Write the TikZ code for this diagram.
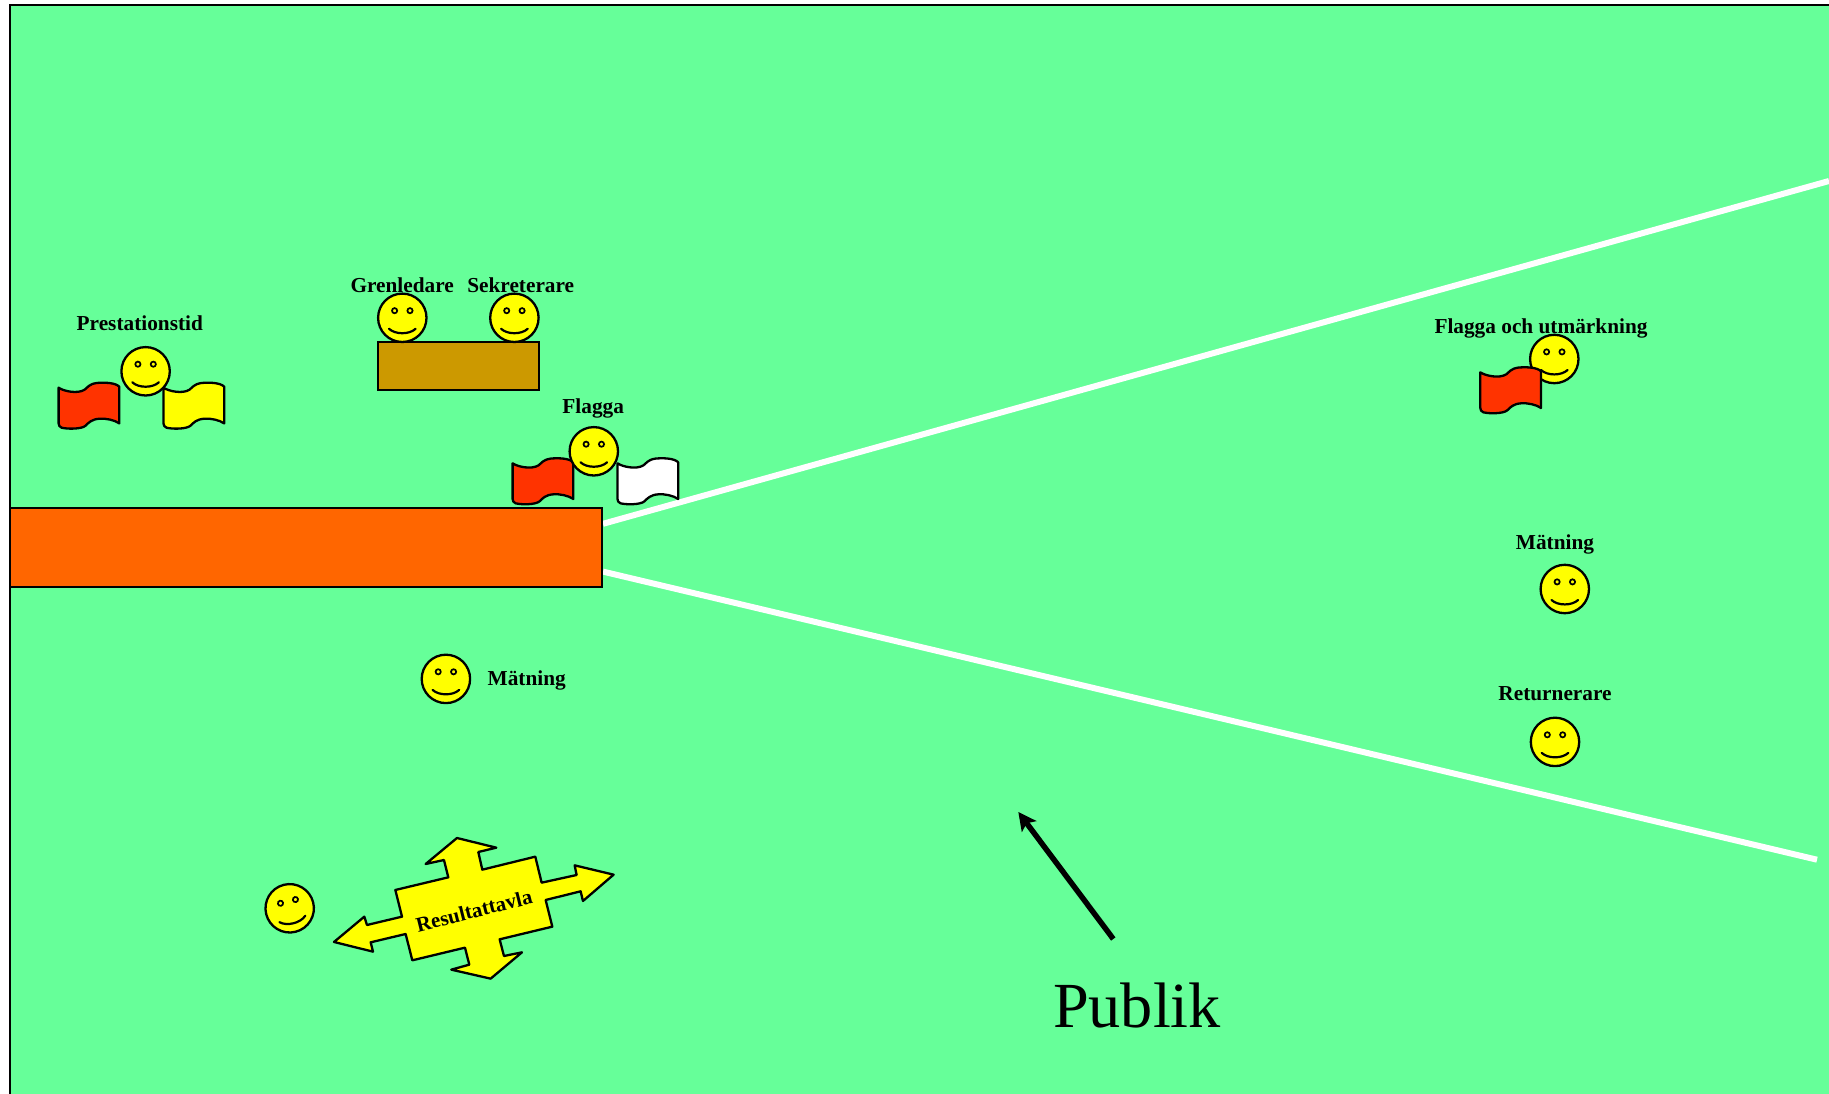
\documentclass[tikz,border=0pt]{standalone}
\usepackage{fontspec}
\setmainfont{Liberation Serif}
\usetikzlibrary{arrows.meta}
\definecolor{fieldgreen}{HTML}{66FF99}
\definecolor{flagred}{HTML}{FF3300}
\definecolor{sunyellow}{HTML}{FFFF00}
\definecolor{barorange}{HTML}{FF6600}
\definecolor{tablebrown}{HTML}{CC9900}
\tikzset{
  outline/.style={draw=black,line width=2.3pt,line join=round},
  boxline/.style={draw=black,line width=2pt,line join=miter},
  sectorline/.style={draw=white,line width=6pt},
  lab/.style={font=\fontsize{21.3}{25}\selectfont\bfseries,anchor=base,inner sep=0pt,text=black},
  smiley/.pic={
    \draw[outline,fill=sunyellow] (0,0) circle (24.2);
    \draw[line width=1.7pt,fill=sunyellow] (-7.7,-7.1) circle (2.6);
    \draw[line width=1.7pt,fill=sunyellow] (7.7,-7.1) circle (2.6);
    \draw[line width=2.2pt,line cap=round] (-13.3,11) .. controls (-7,16.9) and (7,16.9) .. (13.3,11);
  },
  pics/flagshape/.style={code={
    \draw[outline,fill=#1] (0,5) .. controls (5,8.5) and (19,11.5) .. (26,7)
      .. controls (29,5) and (30,1.5) .. (38,0.3)
      .. controls (46,-0.5) and (57,0) .. (60.7,4)
      -- (60.7,40.7)
      .. controls (56,37.3) and (47,35.5) .. (41,36)
      .. controls (33,36.5) and (30,40) .. (27,43)
      .. controls (23,46.5) and (9,46.5) .. (3,45)
      .. controls (1,44.3) and (0,42.5) .. (0,40.7) -- cycle;
  }}
}
\begin{document}
\begin{tikzpicture}[x=1pt,y=-1pt]
\useasboundingbox (0,0) rectangle (1829,1094);
\clip (0,0) rectangle (1829,1094);
\fill[white] (0,0) rectangle (1829,1094);
\draw[boxline,fill=fieldgreen] (9.7,4.8) rectangle (1840,1110);

% sector lines
\coordinate (upperstart) at (603,523.8);
\coordinate (upperend) at (1829,181);
\coordinate (lowerstart) at (603,571.6);
\coordinate (lowerend) at (1817,859.7);
\draw[sectorline] (upperstart) -- (upperend);
\draw[sectorline] (lowerstart) -- (lowerend);

% runway and table
\draw[boxline,fill=barorange] (9.7,507.6) rectangle (602,587.4);
\draw[boxline,fill=tablebrown] (378,341.9) rectangle (538.7,390);

% people and flags
\pic at (58.6,382.7) {flagshape=flagred};
\pic at (163.5,382.7) {flagshape=sunyellow};
\pic at (145.6,371.3) {smiley};

\pic at (402.3,317.8) {smiley};
\pic at (514.4,317.8) {smiley};

\pic at (512.6,458.3) {flagshape=flagred};
\pic at (617.5,458.3) {flagshape=white};
\pic at (593.8,451.3) {smiley};

\pic at (1554.3,359) {smiley};
\pic at (1480.3,367.3) {flagshape=flagred};

\pic at (1564.8,589) {smiley};
\pic at (1555,741.9) {smiley};
\pic at (445.9,678.9) {smiley};
\pic[rotate=14] at (289.7,908.3) {smiley};

% result board
\begin{scope}[shift={(240,820)},x=0.3333pt,y=-0.3333pt]
\draw[outline,fill=sunyellow] (282,366) -- (373,290) -- (381,315) -- (486,290) -- (466,210)
  -- (625,172) -- (612,120) -- (557,132) -- (651,54) -- (769,83) -- (715,96) -- (727,149)
  -- (886,110) -- (905,188) -- (1010,165) -- (1004,136) -- (1121,164) -- (1029,243)
  -- (1022,214) -- (917,240) -- (937,320) -- (779,358) -- (792,408) -- (846,397)
  -- (752,476) -- (634,449) -- (688,434) -- (675,383) -- (517,421) -- (497,342)
  -- (392,367) -- (399,395) -- cycle;
\end{scope}

% labels
\node[lab] (tPrest) at (139.8,330) {Prestationstid};
\node[lab] (tGren) at (402.2,292) {Grenledare};
\node[lab] (tSekr) at (520.7,292) {Sekreterare};
\node[lab] (tFlagga) at (593.2,413.4) {Flagga};
\node[lab] (tFlOch) at (1541,333.4) {Flagga och utmärkning};
\node[lab] (tMat1) at (1555,549.4) {Mätning};
\node[lab] (tRet) at (1555,700.6) {Returnerare};
\node[lab] (tMat2) at (526.7,685.4) {Mätning};
\node[lab,rotate=14,anchor=center,font=\fontsize{21}{25}\selectfont\bfseries] (tRes) at (474,910.7) {Resultattavla};
\node[font=\fontsize{64.3}{70}\selectfont,anchor=base,inner sep=0pt] (tPub) at (1137,1027) {Publik};

% audience arrow
\coordinate (arrowtail) at (1113.3,939);
\coordinate (arrowtip) at (1018.3,812);
\draw[line width=5.5pt,-{Stealth[length=18pt,width=18pt,inset=4pt]}] (arrowtail) -- (arrowtip);
\end{tikzpicture}
\end{document}
